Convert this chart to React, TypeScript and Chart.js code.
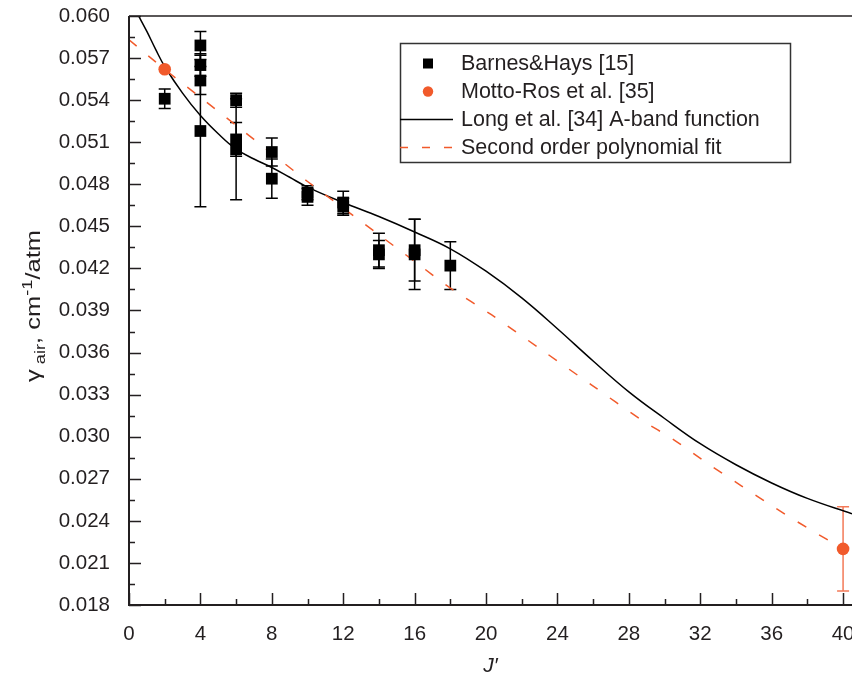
import React, { useEffect, useRef } from 'react';
import { Chart, registerables } from 'chart.js';

Chart.register(...registerables);

// ---- Data ----
const barnesJ = [2, 4, 4, 4, 4, 6, 6, 6, 8, 8, 10, 10, 12, 12, 14, 14, 16, 16, 18];
const barnesGamma = [0.0541, 0.0579, 0.0565, 0.0554, 0.0518, 0.0540, 0.0512, 0.0505, 0.0503, 0.0484, 0.0474, 0.0471, 0.0467, 0.0464, 0.0433, 0.0430, 0.0433, 0.0430, 0.0422];
const barnesErr = [0.0007, 0.0010, 0.0008, 0.0010, 0.0054, 0.0005, 0.0012, 0.0036, 0.0010, 0.0014, 0.0005, 0.0006, 0.0008, 0.0006, 0.0012, 0.0010, 0.0022, 0.0025, 0.0017];

const mottoJ = [2, 40];
const mottoGamma = [0.0562, 0.0220];
const mottoErr = [0, 0.0030];

const longJ = [0.5, 1.0, 1.5, 2.0, 3.0, 4.0, 5.0, 6.0, 7.0, 8.0, 9.0, 10.0, 12.0, 14.0, 16.0, 18.0, 20.0, 22.0, 24.0, 26.0, 28.0, 30.0, 32.0, 34.0, 36.0, 38.0, 40.5];
const longGamma = [0.0601, 0.0589, 0.0576, 0.0564, 0.0545, 0.0529, 0.0516, 0.0505, 0.0498, 0.0492, 0.0485, 0.0478, 0.0467, 0.0457, 0.0446, 0.0434, 0.0418, 0.0399, 0.0377, 0.0354, 0.0332, 0.0313, 0.0295, 0.0280, 0.0267, 0.0256, 0.0245];

const polyJ = [0, 2, 4, 6, 8, 10, 12, 14, 16, 18, 20.3, 23.1, 25.9, 28.7, 30.5, 32.4, 34.3, 36.1, 38.0, 40.0];
const polyGamma = [0.0583, 0.0562, 0.0542, 0.0522, 0.0502, 0.0482, 0.0463, 0.0444, 0.0425, 0.0406, 0.0387, 0.0362, 0.0337, 0.0312, 0.0298, 0.0281, 0.0265, 0.0250, 0.0235, 0.0220];

const xTickValues = [0, 4, 8, 12, 16, 20, 24, 28, 32, 36, 40];
const xMinorTickValues = [2, 6, 10, 14, 18, 22, 26, 30, 34, 38];
const yTickValues = [0.018, 0.021, 0.024, 0.027, 0.030, 0.033, 0.036, 0.039, 0.042, 0.045, 0.048, 0.051, 0.054, 0.057, 0.060];
const yMinorTickValues = [0.0195, 0.0225, 0.0255, 0.0285, 0.0315, 0.0345, 0.0375, 0.0405, 0.0435, 0.0465, 0.0495, 0.0525, 0.0555, 0.0585];

const legendLabels = ['Barnes&Hays [15]', 'Motto-Ros et al. [35]', 'Long et al. [34] A-band function', 'Second order polynomial fit'];

const FONT = "'Liberation Sans', Arial, Helvetica, sans-serif";
const TEXT = '#231f20';
const RED = '#f15a2b';
const RED_ERR = '#f37a58';

const errorBarPlugin = {
  id: 'errorBars',
  beforeDatasetsDraw(chart: any) {
    const { ctx, scales } = chart;
    const xs = scales.x, ys = scales.y;
    const drawSet = (js: number[], gs: number[], es: number[], color: string) => {
      ctx.save();
      ctx.strokeStyle = color;
      ctx.lineWidth = 1.5;
      for (let i = 0; i < js.length; i++) {
        if (!es[i]) continue;
        const px = xs.getPixelForValue(js[i]);
        const top = ys.getPixelForValue(gs[i] + es[i]);
        const bot = ys.getPixelForValue(gs[i] - es[i]);
        ctx.beginPath();
        ctx.moveTo(px, top); ctx.lineTo(px, bot);
        ctx.moveTo(px - 6, top); ctx.lineTo(px + 6, top);
        ctx.moveTo(px - 6, bot); ctx.lineTo(px + 6, bot);
        ctx.stroke();
      }
      ctx.restore();
    };
    drawSet(barnesJ, barnesGamma, barnesErr, '#000');
    drawSet(mottoJ, mottoGamma, mottoErr, RED_ERR);
  },
};

const framePlugin = {
  id: 'frame',
  afterDatasetsDraw(chart: any) {
    const { ctx, chartArea, scales } = chart;
    const { left, right, top, bottom } = chartArea;
    const xs = scales.x, ys = scales.y;
    ctx.save();
    ctx.strokeStyle = TEXT;
    ctx.lineWidth = 2;
    ctx.beginPath();
    ctx.moveTo(left, top); ctx.lineTo(left, bottom); ctx.lineTo(right, bottom);
    ctx.stroke();
    ctx.lineWidth = 1.5;
    ctx.beginPath();
    ctx.moveTo(left, top); ctx.lineTo(right, top);
    ctx.stroke();
    ctx.lineWidth = 1.5;
    ctx.beginPath();
    for (const v of xTickValues) { const p = Math.round(xs.getPixelForValue(v)) + 0.5; ctx.moveTo(p, bottom); ctx.lineTo(p, bottom - 12); }
    for (const v of xMinorTickValues) { const p = Math.round(xs.getPixelForValue(v)) + 0.5; ctx.moveTo(p, bottom); ctx.lineTo(p, bottom - 6); }
    for (const v of yTickValues) { const p = Math.round(ys.getPixelForValue(v)) + 0.5; ctx.moveTo(left, p); ctx.lineTo(left + 12, p); }
    for (const v of yMinorTickValues) { const p = Math.round(ys.getPixelForValue(v)) + 0.5; ctx.moveTo(left, p); ctx.lineTo(left + 6, p); }
    ctx.stroke();
    ctx.restore();
  },
  afterDraw(chart: any) {
    const { ctx } = chart;
    // Legend
    ctx.save();
    ctx.strokeStyle = '#333';
    ctx.lineWidth = 1.5;
    ctx.strokeRect(400.5, 43.5, 390, 119);
    const rows = [63.5, 91.5, 119.5, 147.5];
    const sx = 428;
    ctx.fillStyle = '#000';
    ctx.fillRect(sx - 5, rows[0] - 5, 10, 10);
    ctx.fillStyle = RED;
    ctx.beginPath(); ctx.arc(sx, rows[1], 5.2, 0, Math.PI * 2); ctx.fill();
    ctx.strokeStyle = '#000';
    ctx.lineWidth = 1.5;
    ctx.beginPath(); ctx.moveTo(400, rows[2]); ctx.lineTo(453, rows[2]); ctx.stroke();
    ctx.strokeStyle = RED;
    ctx.setLineDash([8, 14]);
    ctx.beginPath(); ctx.moveTo(400, rows[3]); ctx.lineTo(453, rows[3]); ctx.stroke();
    ctx.setLineDash([]);
    ctx.fillStyle = TEXT;
    ctx.font = `21.5px ${FONT}`;
    ctx.textBaseline = 'middle';
    ctx.textAlign = 'left';
    legendLabels.forEach((t, i) => ctx.fillText(t, 461, rows[i] + 1));
    ctx.restore();

    // Y axis title with subscript / superscript
    ctx.save();
    ctx.translate(40, 306);
    ctx.rotate(-Math.PI / 2);
    const parts = [
      { t: 'γ', s: 21, dy: 0 },
      { t: ' air', s: 15, dy: 5 },
      { t: ',', s: 21, dy: 0 },
      { t: ' cm', s: 21, dy: 0 },
      { t: '-1', s: 15, dy: -8 },
      { t: '/atm', s: 21, dy: 0 },
    ];
    let total = 0;
    const widths = parts.map((p) => { ctx.font = `${p.s}px ${FONT}`; const w = ctx.measureText(p.t).width; total += w; return w; });
    const targetLen = 152;
    const k = targetLen / total;
    ctx.scale(k, 1);
    let x = -total / 2;
    ctx.fillStyle = TEXT;
    ctx.textBaseline = 'alphabetic';
    ctx.textAlign = 'left';
    parts.forEach((p, i) => { ctx.font = `${p.s}px ${FONT}`; ctx.fillText(p.t, x, p.dy); x += widths[i]; });
    ctx.restore();
  },
};

export default function App() {
  const ref = useRef<HTMLCanvasElement | null>(null);
  useEffect(() => {
    if (!ref.current) return;
    const chart = new Chart(ref.current, {
      type: 'scatter',
      data: {
        datasets: [
          {
            label: legendLabels[0],
            data: barnesJ.map((j, i) => ({ x: j, y: barnesGamma[i] })),
            pointStyle: 'rect',
            pointRadius: 8.3,
            pointBackgroundColor: '#000',
            pointBorderWidth: 0,
            showLine: false,
            order: 1,
          },
          {
            label: legendLabels[1],
            data: mottoJ.map((j, i) => ({ x: j, y: mottoGamma[i] })),
            pointStyle: 'circle',
            pointRadius: 6.3,
            pointBackgroundColor: RED,
            pointBorderWidth: 0,
            showLine: false,
            order: 1,
          },
          {
            label: legendLabels[2],
            data: longJ.map((j, i) => ({ x: j, y: longGamma[i] })),
            showLine: true,
            borderColor: '#000',
            borderWidth: 1.5,
            pointRadius: 0,
            tension: 0.4,
            order: 3,
          },
          {
            label: legendLabels[3],
            data: polyJ.map((j, i) => ({ x: j, y: polyGamma[i] })),
            showLine: true,
            borderColor: RED,
            borderWidth: 1.5,
            borderDash: [10, 15],
            pointRadius: 0,
            tension: 0.3,
            order: 2,
          },
        ],
      },
      options: {
        animation: false,
        responsive: true,
        maintainAspectRatio: false,
        layout: { autoPadding: false, padding: { top: 16, right: 0, left: 0, bottom: 0 } },
        plugins: { legend: { display: false }, tooltip: { enabled: false } },
        scales: {
          x: {
            type: 'linear',
            min: 0,
            max: 40.5,
            grid: { display: false, drawTicks: false },
            border: { display: false },
            afterBuildTicks: (s: any) => { s.ticks = xTickValues.map((v) => ({ value: v })); },
            afterFit: (s: any) => { s.height = 72; s.paddingLeft = 0; s.paddingRight = 0; },
            ticks: { color: TEXT, font: { family: FONT, size: 20.5 }, padding: 17, maxRotation: 0, autoSkip: false },
            title: { display: true, text: 'J′', color: TEXT, font: { family: FONT, size: 21, style: 'italic', lineHeight: 1 }, padding: { top: 0, bottom: 0 } },
          },
          y: {
            type: 'linear',
            min: 0.018,
            max: 0.060,
            grid: { display: false, drawTicks: false },
            border: { display: false },
            afterBuildTicks: (s: any) => { s.ticks = yTickValues.map((v) => ({ value: v })); },
            afterFit: (s: any) => { s.width = 129; s.paddingTop = 0; s.paddingBottom = 0; },
            ticks: { color: TEXT, font: { family: FONT, size: 20.5 }, padding: 19, callback: (v: any) => Number(v).toFixed(3), autoSkip: false },
          },
        },
      } as any,
      plugins: [errorBarPlugin, framePlugin],
    });
    return () => chart.destroy();
  }, []);
  return (
    <div style={{ position: 'fixed', left: 0, top: 0, width: 852, height: 677, background: '#fff' }}>
      <canvas ref={ref} />
    </div>
  );
}
